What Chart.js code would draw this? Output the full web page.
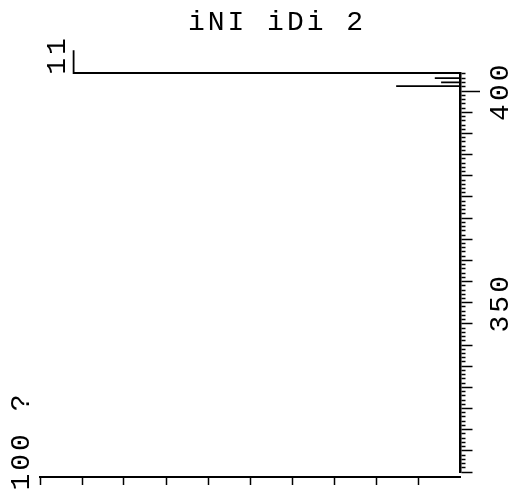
<!DOCTYPE html>
<html>
<head>
<meta charset="utf-8">
<script src="https://cdn.jsdelivr.net/npm/chart.js@4.4.0/dist/chart.umd.min.js"></script>
<style>
html,body{margin:0;padding:0;background:#fff;}
#wrap{width:517px;height:495px;position:relative;}
</style>
</head>
<body>
<div id="wrap"><canvas id="c"></canvas></div>
<script>
const traceWavelength = [310, 401.2, 401.2, 401.2, 402.1, 402.1, 402.1, 403.1, 403.1, 403.1, 404.3, 404.3, 409.7];
const traceIntensity  = [0,   0,     1.52,  0,     0,     0.45,  0,     0,     0.6,   0,     0,     9.2,   9.2];
const wavelengthLabels = [350, 400];
const intensityTicks = [1, 2, 3, 4, 5, 6, 7, 8, 9, 10];
const titleText = 'iNI iDi 2';
const topLeftText = '11';
const bottomLeftText = '100 ?';
const wavelengthMin = 310, wavelengthMax = 404.3;
const intensityMin = 0, intensityMax = 10;

const INK = '#000';
const FONT_FAMILY = '"Liberation Mono", "DejaVu Sans Mono", monospace';
const FONT_SIZE = 28;
const SPACING = '3px';

const textPlugin = {
  id: 'plotText',
  beforeDraw(chart) { chart.ctx.letterSpacing = SPACING; },
  afterDraw(chart) {
    const ctx = chart.ctx;
    ctx.save();
    ctx.fillStyle = INK;
    ctx.font = FONT_SIZE + 'px ' + FONT_FAMILY;
    ctx.letterSpacing = SPACING;
    ctx.textAlign = 'center';
    ctx.textBaseline = 'middle';
    ctx.fillText(titleText, 277, 23);
    ctx.save();
    ctx.translate(58, 55);
    ctx.rotate(-Math.PI / 2);
    ctx.fillText(topLeftText, 0, 0);
    ctx.restore();
    ctx.save();
    ctx.translate(22, 441);
    ctx.rotate(-Math.PI / 2);
    ctx.fillText(bottomLeftText, 0, 0);
    ctx.restore();
    ctx.restore();
  }
};

const points = traceWavelength.map((w, i) => ({x: traceIntensity[i], y: w}));

new Chart(document.getElementById('c'), {
  type: 'scatter',
  data: {
    datasets: [{
      data: points,
      showLine: true,
      borderColor: INK,
      borderWidth: 1.8,
      pointRadius: 0,
      tension: 0,
      clip: false
    }]
  },
  options: {
    responsive: true,
    maintainAspectRatio: false,
    animation: false,
    layout: {padding: {left: 40, top: 73, right: 0, bottom: 23}},
    plugins: {legend: {display: false}, tooltip: {enabled: false}, title: {display: false}},
    scales: {
      x: {
        type: 'linear',
        min: intensityMin,
        max: intensityMax,
        reverse: true,
        position: {y: 308.8},
        afterBuildTicks: s => { s.ticks = intensityTicks.map(v => ({value: v})); },
        ticks: {display: false},
        grid: {display: true, drawOnChartArea: false, drawTicks: true, tickLength: 7, tickWidth: 1.5, tickColor: INK},
        border: {display: true, color: INK, width: 2}
      },
      y: {
        type: 'linear',
        position: 'right',
        min: wavelengthMin,
        max: wavelengthMax,
        afterFit: s => { s.width = 57; },
        ticks: {
          stepSize: 1,
          autoSkip: false,
          minRotation: 90,
          maxRotation: 90,
          crossAlign: 'center',
          padding: -5,
          color: INK,
          font: {family: FONT_FAMILY, size: FONT_SIZE},
          callback: v => wavelengthLabels.includes(v) ? String(v) : ''
        },
        grid: {
          display: true,
          drawOnChartArea: false,
          drawTicks: true,
          tickLength: 20,
          tickWidth: 1.5,
          tickColor: INK,
          tickBorderDash: c => {
            const v = c.tick ? c.tick.value : 0;
            if (v === 400) return [];
            if (v % 5 === 0) return [11, 60];
            return [4, 60];
          }
        },
        border: {display: true, color: INK, width: 2.5}
      }
    }
  },
  plugins: [textPlugin]
});
</script>
</body>
</html>
